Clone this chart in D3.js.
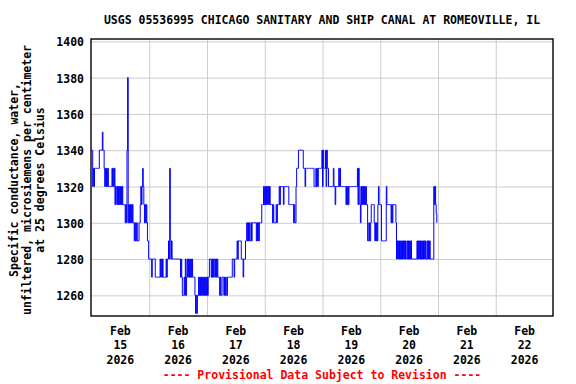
<!DOCTYPE html>
<html><head><meta charset="utf-8">
<script src="https://cdn.jsdelivr.net/npm/d3@7"></script>
<style>
body{margin:0;background:#fff;}
svg text{font-family:"DejaVu Sans Mono",monospace;font-weight:bold;font-size:11.5px;}
</style></head>
<body><svg id="c" width="576" height="384"></svg>
<script>
// 15-minute readings, starting Feb 15 2026 00:00 (uS/cm)
const feb15 = [1340,1340,1320,1330,1320,1330,1330,1330,1330,1330,1330,1330,
 1330,1340,1340,1340,1340,1340,1350,1340,1340,1330,1320,1330,
 1320,1330,1320,1330,1320,1320,1320,1320,1320,1320,1330,1320,
 1330,1320,1330,1310,1320,1320,1310,1320,1310,1320,1310,1320,
 1310,1320,1310,1320,1310,1310,1310,1310,1300,1310,1300,1340,
 1380,1300,1310,1300,1310,1300,1310,1300,1310,1300,1300,1290,
 1300,1290,1290,1300,1290,1290,1290,1300,1300,1310,1320,1310,
 1320,1330,1320,1310,1300,1310,1300,1310,1300,1290,1290,1280];
const feb16 = [1280,1280,1280,1280,1270,1280,1280,1280,1280,1280,1270,1270,
 1270,1270,1270,1270,1270,1270,1280,1270,1280,1270,1280,1270,
 1270,1270,1270,1270,1280,1270,1280,1280,1290,1280,1330,1290,
 1280,1290,1280,1280,1280,1280,1280,1280,1280,1280,1280,1280,
 1280,1280,1280,1280,1270,1280,1270,1260,1260,1260,1270,1260,
 1280,1260,1270,1280,1270,1280,1270,1280,1270,1280,1270,1280,
 1270,1270,1270,1270,1260,1250,1260,1250,1260,1260,1270,1260,
 1270,1260,1270,1260,1270,1260,1270,1260,1270,1260,1270,1260];
const feb17 = [1270,1260,1270,1270,1280,1280,1280,1270,1280,1270,1280,1270,
 1280,1280,1270,1280,1270,1280,1270,1270,1270,1260,1270,1260,
 1260,1270,1270,1270,1260,1270,1260,1270,1260,1260,1270,1270,
 1270,1270,1270,1270,1270,1270,1280,1280,1280,1270,1280,1280,
 1280,1280,1290,1280,1290,1290,1290,1290,1290,1280,1280,1280,
 1270,1280,1280,1280,1290,1290,1300,1290,1300,1290,1300,1290,
 1290,1300,1290,1300,1300,1300,1300,1300,1300,1300,1290,1300,
 1290,1300,1290,1300,1300,1300,1300,1310,1310,1310,1320,1310];
const feb18 = [1320,1310,1320,1310,1320,1310,1320,1310,1320,1310,1310,1310,
 1310,1300,1310,1300,1300,1300,1300,1310,1300,1310,1310,1310,
 1320,1310,1320,1320,1320,1320,1320,1310,1320,1320,1320,1320,
 1320,1320,1320,1320,1310,1310,1310,1310,1310,1310,1310,1310,
 1300,1310,1300,1300,1320,1330,1330,1330,1340,1340,1340,1340,
 1340,1340,1340,1340,1330,1330,1330,1320,1330,1330,1330,1330,
 1330,1330,1330,1330,1330,1330,1330,1330,1330,1330,1320,1320,
 1320,1330,1320,1330,1320,1330,1330,1330,1330,1330,1330,1340];
const feb19 = [1320,1340,1330,1330,1330,1340,1320,1340,1330,1330,1320,1320,
 1320,1320,1320,1320,1320,1320,1330,1320,1320,1310,1320,1320,
 1320,1320,1320,1330,1320,1330,1320,1320,1320,1320,1320,1320,
 1320,1320,1320,1310,1320,1310,1320,1310,1320,1320,1320,1320,
 1320,1320,1320,1320,1320,1320,1320,1320,1320,1320,1330,1310,
 1330,1320,1310,1300,1320,1310,1320,1310,1320,1310,1320,1310,
 1320,1310,1310,1290,1290,1300,1290,1290,1300,1310,1310,1310,
 1310,1310,1300,1290,1300,1290,1300,1290,1310,1320,1310,1310];
const feb20 = [1310,1310,1290,1290,1290,1290,1290,1290,1290,1290,1320,1310,
 1310,1310,1310,1310,1310,1310,1300,1310,1300,1310,1310,1310,
 1310,1310,1300,1280,1290,1280,1290,1280,1290,1280,1290,1280,
 1290,1280,1290,1280,1290,1280,1290,1280,1280,1290,1280,1290,
 1280,1290,1280,1290,1280,1280,1280,1280,1280,1280,1280,1280,
 1280,1290,1280,1290,1280,1290,1280,1290,1280,1290,1280,1290,
 1280,1290,1280,1290,1280,1280,1290,1280,1290,1280,1290,1280,
 1280,1280,1280,1280,1280,1320,1310,1320,1310,1305,1300];

const yTicks = [1260,1280,1300,1320,1340,1360,1380,1400];
const dayLabels = ["15","16","17","18","19","20","21","22"];
const monthLabel = "Feb", yearLabel = "2026";
const title = "USGS 05536995 CHICAGO SANITARY AND SHIP CANAL AT ROMEOVILLE, IL";
const yTitle = ["Specific conductance, water,","unfiltered, microsiemens per centimeter","at 25 degrees Celsius"];
const footer = "---- Provisional Data Subject to Revision ----";

const values = [].concat(feb15,feb16,feb17,feb18,feb19,feb20);
const t0 = new Date(2026,1,15,0,0);
const data = values.map((v,i)=>({t:new Date(t0.getTime()+i*15*60000), v}));

const L=91, T=39, R=553, B=316;
const svg = d3.select("#c");
const x = d3.scaleTime().domain([new Date(2026,1,15), new Date(2026,1,23)]).range([L+0.5, R+0.5]);
const y = d3.scaleLinear().domain([1248.6, 1401.3]).range([B, T]);

// gridlines + y labels
const gy = svg.append("g").attr("transform",`translate(${L},0)`)
  .call(d3.axisLeft(y).tickValues(yTicks).tickSize(-(R-L)).tickPadding(7).tickFormat(d3.format("d")));
gy.select(".domain").remove();
gy.selectAll("line").attr("stroke","#cccccc").attr("stroke-width",1);
gy.selectAll("text").attr("fill","#000").style("font-size","11.5px").attr("dy","0.4em");

const midnights = d3.range(1,8).map(d=>new Date(2026,1,15+d));
const gx = svg.append("g").attr("transform",`translate(0,${B})`)
  .call(d3.axisBottom(x).tickValues(midnights).tickSize(-(B-T)).tickFormat(""));
gx.select(".domain").remove();
gx.selectAll("line").attr("stroke","#cccccc").attr("stroke-width",1);

// data line
svg.append("path").datum(data)
  .attr("fill","none").attr("stroke","#0000ff").attr("stroke-width",1)
  .attr("d", d3.line().x(d=>x(d.t)).y(d=>y(d.v)).curve(d3.curveStepAfter));

// frame
svg.append("rect").attr("x",L).attr("y",T).attr("width",R-L).attr("height",B-T)
  .attr("fill","none").attr("stroke","#000").attr("stroke-width",1.4);

// x labels
dayLabels.forEach((dl,i)=>{
  const cx = x(new Date(2026,1,15+i,12));
  const tx = svg.append("text").attr("text-anchor","middle").attr("fill","#000");
  [monthLabel, dl, yearLabel].forEach((s,k)=>{
    tx.append("tspan").attr("x",cx).attr("y",335+k*14.3).text(s);
  });
});

// title
svg.append("text").attr("x",(L+R)/2).attr("y",24).attr("text-anchor","middle").attr("fill","#000").text(title);

// y title
yTitle.forEach((s,k)=>{
  svg.append("text").attr("transform",`translate(${18+k*13},180) rotate(-90)`)
    .attr("text-anchor","middle").attr("fill","#000").text(s);
});

// footer
svg.append("text").attr("x",(L+R)/2).attr("y",379).attr("text-anchor","middle").attr("fill","#ff0000").text(footer);
</script></body></html>
